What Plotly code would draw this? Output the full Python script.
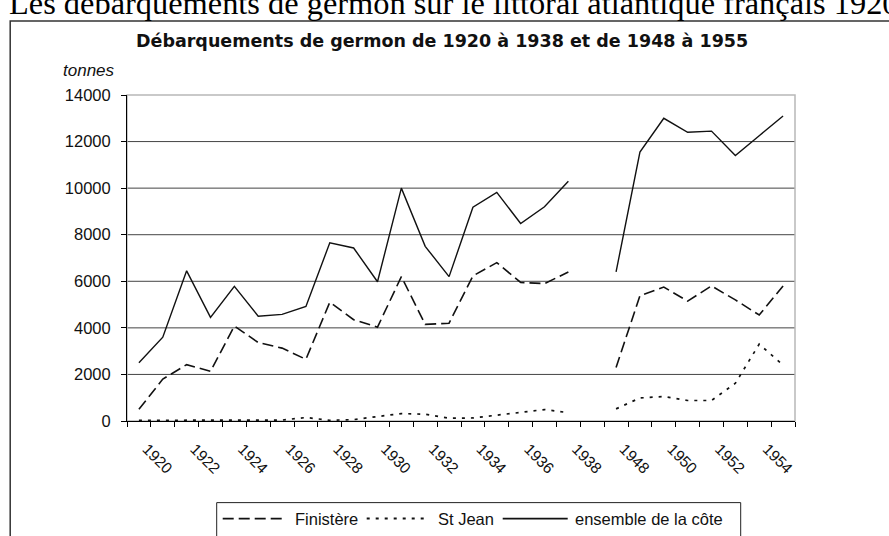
import plotly.graph_objects as go

# Années (une catégorie vide sépare les deux périodes)
annees = [str(a) for a in range(1920, 1939)] + [""] + [str(a) for a in range(1948, 1956)]

# Débarquements en tonnes
finistere = [500, 1800, 2420, 2130, 4080, 3370, 3130, 2650, 5100, 4350,
             4030, 6200, 4150, 4200, 6230, 6800, 5950, 5900, 6400, None,
             2300, 5380, 5750, 5150, 5800, 5200, 4550, 5800]
st_jean = [30, 30, 30, 30, 30, 30, 40, 150, 30, 60,
           180, 320, 290, 120, 130, 250, 360, 490, 360, None,
           520, 990, 1050, 880, 880, 1620, 3300, 2400]
ensemble = [2500, 3600, 6450, 4450, 5780, 4500, 4580, 4920, 7650, 7430,
            5980, 10000, 7500, 6200, 9180, 9820, 8480, 9200, 10300, None,
            6400, 11550, 13000, 12400, 12450, 11400, 12250, 13100]

y_ticks = [0, 2000, 4000, 6000, 8000, 10000, 12000, 14000]
y_labels = [str(v) for v in y_ticks]

series = [
    ("Finistère", finistere, "11px,5px", 1.6),
    ("St Jean", st_jean, "3px,6px", 1.7),
    ("ensemble de la côte", ensemble, "solid", 1.4),
]

W, H = 889, 536
L, R, T, B = 127.3, 795.3, 95.0, 421.3
SANS = "Liberation Sans, Arial"


def px_x(p):
    return (p - L) / (R - L)


def px_y(p):
    return (B - p) / (B - T)


idx = list(range(len(annees)))

fig = go.Figure()
for name, vals, dash, w in series:
    fig.add_trace(go.Scatter(
        x=idx, y=vals, mode="lines", name=name, connectgaps=False,
        line=dict(color="#111111", width=w, dash=dash), showlegend=False,
    ))

shapes = []
# grille horizontale
for v in y_ticks[1:-1]:
    shapes.append(dict(type="line", xref="paper", yref="y", x0=0, x1=1, y0=v, y1=v,
                       line=dict(color="#444444", width=1), layer="below"))
# bord de la zone de tracé
shapes.append(dict(type="rect", xref="paper", yref="paper", x0=0, x1=1, y0=0, y1=1,
                   line=dict(color="#b8b8b8", width=1.5), layer="below"))
# cadre du graphique
shapes.append(dict(type="rect", xref="paper", yref="paper",
                   x0=px_x(10.5), x1=px_x(905), y0=px_y(560), y1=px_y(21),
                   line=dict(color="#333333", width=1.5), layer="below"))

# légende
leg_top, leg_y = 503, 519
shapes.append(dict(type="rect", xref="paper", yref="paper",
                   x0=px_x(217), x1=px_x(741), y0=px_y(560), y1=px_y(leg_top),
                   line=dict(color="#222222", width=1), layer="below"))
legend_items = [
    (223, 287, 293),
    (367, 429, 436),
    (503, 568, 573),
]
annotations = []
for (name, vals, dash, w), (a, b, t) in zip(series, legend_items):
    shapes.append(dict(type="line", xref="paper", yref="paper",
                       x0=px_x(a), x1=px_x(b), y0=px_y(leg_y), y1=px_y(leg_y),
                       line=dict(color="#111111", width=w + 0.3, dash=dash)))
    annotations.append(dict(text=name, xref="paper", yref="paper", x=px_x(t), y=px_y(leg_y),
                            xanchor="left", yanchor="middle", showarrow=False,
                            font=dict(family=SANS, size=16.5, color="#111111")))

annotations += [
    dict(text="Les débarquements de germon sur le littoral atlantique français 1920",
         xref="paper", yref="paper", x=px_x(7), y=px_y(3), xanchor="left", yanchor="middle",
         showarrow=False, font=dict(family="Liberation Serif, Times New Roman", size=32.4, color="black")),
    dict(text="<b>Débarquements de germon de 1920 à 1938 et de 1948 à 1955</b>",
         xref="paper", yref="paper", x=px_x(442), y=px_y(41), xanchor="center", yanchor="middle",
         showarrow=False, font=dict(family="DejaVu Sans", size=17.5, color="#111111")),
    dict(text="<i>tonnes</i>", xref="paper", yref="paper", x=px_x(89), y=px_y(70),
         xanchor="center", yanchor="middle", showarrow=False,
         font=dict(family=SANS, size=17, color="#111111")),
]

fig.update_layout(
    width=W, height=H,
    margin=dict(l=L, r=W - R, t=T, b=H - B, pad=0),
    paper_bgcolor="white", plot_bgcolor="white",
    showlegend=False,
    shapes=shapes, annotations=annotations,
    xaxis=dict(
        range=[-0.5, len(annees) - 0.5], tickmode="array",
        tickvals=idx[::2], ticktext=annees[::2], tickangle=45,
        ticks="", showgrid=False, zeroline=False,
        showline=True, linecolor="black", linewidth=1,
        ticklabelstandoff=12, ticklabelshift=8,
        tickfont=dict(family=SANS, size=15.5, color="#111111"),
        minor=dict(tickmode="linear", tick0=-0.5, dtick=1, ticks="outside",
                   ticklen=5, tickcolor="black", tickwidth=1, showgrid=False),
    ),
    yaxis=dict(
        range=[0, 14000], tickmode="array", tickvals=y_ticks, ticktext=y_labels,
        ticks="outside", ticklen=5, tickcolor="black", tickwidth=1,
        showgrid=False, zeroline=False,
        showline=True, linecolor="black", linewidth=1,
        ticklabelstandoff=7,
        tickfont=dict(family=SANS, size=16.5, color="#111111"),
    ),
)

fig.write_html("out.html")
